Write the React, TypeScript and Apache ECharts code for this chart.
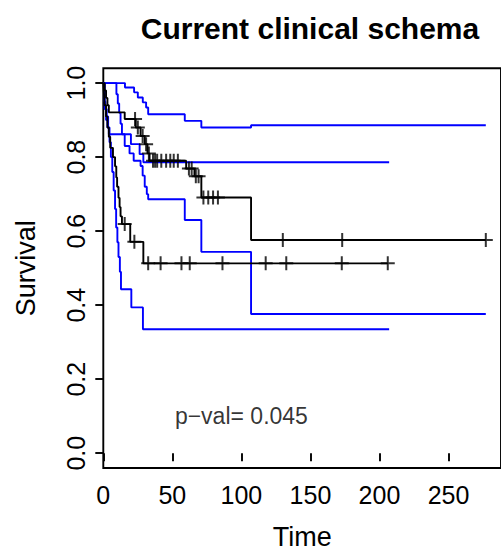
import React, { useEffect, useRef } from "react";
import * as echarts from "echarts";

const FONT = "'Liberation Sans', Arial, Helvetica, sans-serif";

const chartTitle = "Current clinical schema";
const xName = "Time";
const yName = "Survival";
const pValueText = "p\u2212val= 0.045";
const pValuePos: [number, number] = [100, 0.1];

const xTicks = [0, 50, 100, 150, 200, 250];
const yTicks = [0, 0.2, 0.4, 0.6, 0.8, 1.0];
const xMax = 288;

// Kaplan–Meier steps: [event time, survival right after it]
const groupA: [number, number][] = [
  [0, 1], [1, 0.98], [2, 0.96], [3, 0.94], [4, 0.921], [15.5, 0.903],
  [23.5, 0.88], [27, 0.857], [30, 0.835], [32, 0.81], [33.5, 0.79],
  [60, 0.769], [66, 0.748], [71, 0.691], [107, 0.576],
];
const groupAEnd = 277;
const groupACensor = [
  23, 25, 28.5, 31, 33, 36, 37.5, 39, 42, 45.5, 48.5, 51, 54,
  62, 64, 67, 69, 72.5, 76, 79.5, 83, 130, 173, 277,
];
const groupAUpper: [number, number][] = [
  [0, 1], [15.7, 0.988], [22.3, 0.975], [25, 0.961], [28.6, 0.948],
  [31, 0.934], [32.5, 0.916], [59, 0.898], [71, 0.88], [107, 0.886],
];
const groupALower: [number, number][] = [
  [0, 1], [1, 0.93], [2, 0.9], [3, 0.88], [4, 0.862], [15.5, 0.83],
  [19, 0.81], [22, 0.79], [27, 0.776], [28.5, 0.75], [30, 0.72],
  [31.5, 0.7], [32.5, 0.686], [59, 0.63], [71, 0.544], [107, 0.376],
];

const groupB: [number, number][] = [
  [0, 1], [0.5, 0.97], [1, 0.94], [2, 0.91], [3, 0.88], [4, 0.855],
  [5, 0.825], [7, 0.8], [8.5, 0.775], [9.4, 0.745], [10, 0.72],
  [11, 0.69], [11.8, 0.665], [12.5, 0.64], [13.5, 0.619], [19.5, 0.571],
  [29, 0.513],
];
const groupBEnd = 206;
const groupBCensor = [15.5, 22.5, 32.5, 41.5, 56.6, 62.6, 86.3, 117.6, 132.5, 172.7, 206];
const groupBUpper: [number, number][] = [
  [0, 1], [9.5, 0.97], [10.5, 0.945], [11.5, 0.92], [12.5, 0.89],
  [13.5, 0.862], [20, 0.835], [26.3, 0.808], [29, 0.786],
];
const groupBLower: [number, number][] = [
  [0, 1], [0.8, 0.95], [1.5, 0.93], [2.5, 0.91], [3.5, 0.88], [4.5, 0.84],
  [5.5, 0.8], [6.5, 0.76], [7.5, 0.71], [8.5, 0.66], [9.3, 0.61],
  [10.2, 0.57], [11, 0.53], [12, 0.49], [12.8, 0.443], [20.3, 0.394],
  [28.7, 0.335],
];
const groupBCiEnd = 207;

const BLUE = "#0000ff";
const BLACK = "#000000";
const LW = 1.9;

// plus-sign marker used for censored observations
const PLUS = "path://M6,0H8V6H14V8H8V14H6V8H0V6H6Z";

function withEnd(steps: [number, number][], end: number): [number, number][] {
  return [...steps, [end, steps[steps.length - 1][1]]];
}

function survivalAt(steps: [number, number][], t: number): number {
  let s = steps[0][1];
  for (const [time, value] of steps) {
    if (time <= t) s = value;
  }
  return s;
}

function stepSeries(data: [number, number][], color: string, z: number) {
  return {
    type: "line",
    step: "end",
    data,
    showSymbol: false,
    symbol: "none",
    lineStyle: { color, width: LW },
    z,
    silent: true,
  };
}

function censorSeries(steps: [number, number][], times: number[]) {
  return {
    type: "scatter",
    data: times.map((t) => [t, survivalAt(steps, t)]),
    symbol: PLUS,
    symbolSize: 14,
    itemStyle: { color: BLACK },
    z: 5,
    silent: true,
  };
}

export default function App() {
  const ref = useRef<HTMLDivElement>(null);

  useEffect(() => {
    if (!ref.current) return;
    const chart = echarts.init(ref.current, undefined, { renderer: "svg" });
    const tickStyle = { color: BLACK, fontSize: 25, fontFamily: FONT };
    const nameStyle = { color: BLACK, fontSize: 27, fontFamily: FONT };
    chart.setOption({
      animation: false,
      textStyle: { fontFamily: FONT },
      grid: {
        show: true,
        left: 103.3,
        top: 68.3,
        right: -1,
        bottom: 89,
        borderColor: BLACK,
        borderWidth: LW,
        backgroundColor: "transparent",
      },
      graphic: [
        {
          type: "text",
          x: 310,
          y: 28,
          style: {
            text: chartTitle,
            font: `bold 30px ${FONT}`,
            fill: BLACK,
            textAlign: "center",
            textVerticalAlign: "middle",
          },
        },
      ],
      xAxis: {
        type: "value",
        min: 0,
        max: xMax,
        interval: 50,
        name: xName,
        nameLocation: "middle",
        nameGap: 55,
        nameTextStyle: nameStyle,
        axisLine: { show: false },
        axisTick: {
          show: true,
          inside: false,
          length: 8,
          customValues: xTicks,
          lineStyle: { color: BLACK, width: LW },
        },
        axisLabel: { ...tickStyle, margin: 14, customValues: xTicks },
        splitLine: { show: false },
      },
      yAxis: {
        type: "value",
        min: -0.04,
        max: 1.04,
        name: yName,
        nameLocation: "middle",
        nameGap: 64,
        nameRotate: 90,
        nameTextStyle: nameStyle,
        axisLine: { show: false },
        axisTick: {
          show: true,
          inside: false,
          length: 8,
          customValues: yTicks,
          lineStyle: { color: BLACK, width: LW },
        },
        axisLabel: {
          ...tickStyle,
          rotate: 90,
          margin: 15,
          customValues: yTicks,
          formatter: (v: number) => v.toFixed(1),
        },
        splitLine: { show: false },
      },
      series: [
        stepSeries(withEnd(groupAUpper, groupAEnd), BLUE, 2),
        stepSeries(withEnd(groupALower, groupAEnd), BLUE, 2),
        stepSeries(withEnd(groupBUpper, groupBCiEnd), BLUE, 2),
        stepSeries(withEnd(groupBLower, groupBCiEnd), BLUE, 2),
        stepSeries(withEnd(groupA, groupAEnd), BLACK, 3),
        stepSeries(withEnd(groupB, groupBEnd), BLACK, 3),
        censorSeries(groupA, groupACensor),
        censorSeries(groupB, groupBCensor),
        {
          type: "scatter",
          data: [pValuePos],
          symbolSize: 1,
          itemStyle: { color: "transparent" },
          label: {
            show: true,
            position: "inside",
            formatter: () => pValueText,
            color: BLACK,
            fontSize: 23,
            fontFamily: FONT,
          },
          silent: true,
        },
      ],
    });
    return () => chart.dispose();
  }, []);

  return (
    <div
      ref={ref}
      style={{ position: "fixed", left: 0, top: 0, width: 501, height: 557, background: "#fff" }}
    />
  );
}
